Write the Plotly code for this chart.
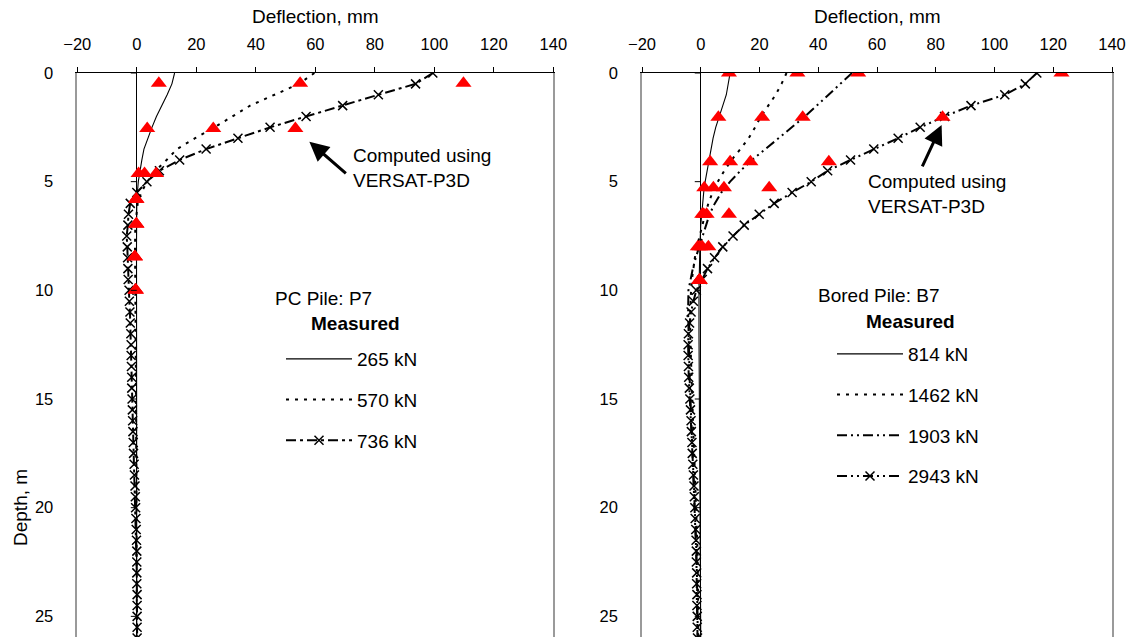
import plotly.graph_objects as go

W, H = 1132, 637
FONT = "Liberation Sans, Arial, sans-serif"

# ---------------- data ----------------
x_ticks = [-20, 0, 20, 40, 60, 80, 100, 120, 140]
y_ticks = [0, 5, 10, 15, 20, 25]

depth_half = [0, 0.5, 1, 1.5, 2, 2.5, 3, 3.5, 4, 4.5, 5, 5.5, 6, 6.5, 7, 7.5, 8, 8.5,
              9, 9.5, 10, 10.5, 11, 11.5, 12, 12.5, 13, 13.5, 14, 14.5, 15, 15.5,
              16, 16.5, 17, 17.5, 18, 18.5, 19, 19.5, 20, 20.5, 21, 21.5, 22, 22.5,
              23, 23.5, 24, 24.5, 25, 25.5, 26]

# PC Pile P7 - measured
p7_265_depth = [0, 0.5, 1, 1.5, 2, 2.5, 3, 3.5, 4, 4.5, 5, 5.5, 6, 8, 10, 12, 16, 20, 26]
p7_265_defl = [12.7, 11.8, 10.2, 8.4, 6.6, 5.1, 3.7, 2.4, 1.7, 1.0, 0.5, 0.2, 0.0, -0.1, -0.1, 0.0, 0.0, 0.0, 0.0]

p7_570_depth = [0, 0.5, 1, 1.5, 2, 2.5, 3, 3.5, 4, 4.5, 5, 5.5, 6, 7, 8, 9, 10, 12, 14, 16, 18, 20, 22, 24, 26]
p7_570_defl = [59.7, 54.5, 46.3, 38.1, 32.1, 26.1, 19.6, 13.5, 10.0, 6.3, 3.5, 1.5, 0.3, -0.5, -0.6, -0.5, -0.5, -0.4, -0.3, -0.2, -0.1, 0.0, 0.0, 0.0, 0.0]

p7_736_depth = depth_half
p7_736_defl = [99.5, 93.7, 81.2, 69.2, 56.9, 44.8, 34.0, 23.3, 14.4, 7.6, 3.4, 0.0,
               -2.2, -2.8, -3.0, -3.4, -3.2, -3.1, -3.0, -2.9, -2.6, -2.5, -2.3, -2.2,
               -2.0, -1.9, -1.9, -1.8, -1.7, -1.7, -1.6, -1.5, -1.4, -1.3, -1.2, -1.1,
               -0.9, -0.8, -0.6, -0.5, -0.4, -0.3, -0.2, -0.1, 0.0, 0.0, 0.0, 0.0,
               0.1, 0.1, 0.1, 0.1, 0.1]

# PC Pile P7 - computed (VERSAT-P3D)
p7_comp_depth = [0.47, 2.55, 4.62, 5.81, 6.95, 8.45, 9.99]
p7_comp_265 = [7.4, 3.5, 0.6, -0.2, -0.2, -0.7, -0.4]
p7_comp_570 = [54.9, 25.7, 2.6, -0.3, -0.2, -0.7, -0.4]
p7_comp_736 = [109.8, 53.3, 6.5, -0.1, -0.1, -0.6, -0.3]

# Bored Pile B7 - measured
b7_814_depth = [0, 0.5, 1, 1.5, 2, 2.5, 3, 3.5, 4, 4.5, 5, 5.5, 6, 6.5, 7, 8, 9, 10, 12, 14, 16, 18, 20, 22, 24, 26]
b7_814_defl = [10.0, 9.4, 8.7, 7.5, 6.2, 5.1, 4.2, 3.5, 2.8, 2.1, 1.5, 1.0, 0.6, 0.3, 0.0, -0.3, -0.5, -0.6, -0.6, -0.5, -0.4, -0.3, -0.2, -0.1, 0.0, 0.0]

b7_1462_depth = [0, 0.5, 1, 1.5, 2, 2.5, 3, 3.5, 4, 4.5, 5, 5.5, 6, 6.5, 7, 7.5, 8, 8.5, 9, 9.5,
                 10, 11, 12, 13, 14, 15, 16, 17, 18, 19, 20, 21, 22, 23, 24, 25, 26]
b7_1462_defl = [29.2, 27.5, 25.5, 23.0, 20.5, 18.5, 16.3, 13.5, 10.5, 8.0, 5.8, 4.0, 2.6, 1.5, 0.5, -0.4,
                -1.3, -2.0, -2.6, -3.0, -3.3, -3.6, -3.6, -3.4, -3.2, -3.0, -2.7, -2.4, -2.1, -1.8,
                -1.5, -1.3, -1.1, -1.0, -0.9, -0.8, -0.8]

b7_1903_depth = [0, 0.5, 1, 1.5, 2, 2.5, 3, 3.5, 4, 4.5, 5, 5.5, 6, 6.5, 7, 7.5, 8, 8.5, 9, 9.5,
                 10, 11, 12, 13, 14, 15, 16, 17, 18, 19, 20, 21, 22, 23, 24, 25, 26]
b7_1903_defl = [51.5, 47.5, 43.5, 39.5, 35.5, 31.0, 26.5, 22.0, 17.5, 13.5, 10.0, 7.0, 4.8, 3.0, 1.8, 0.6,
                -0.6, -1.7, -2.7, -3.5, -4.2, -4.3, -4.2, -4.0, -3.8, -3.5, -3.2, -2.9, -2.6, -2.3,
                -2.0, -1.7, -1.5, -1.3, -1.2, -1.1, -1.0]

b7_2943_depth = depth_half
b7_2943_defl = [114.4, 110.5, 103.5, 92.0, 83.0, 74.7, 67.2, 58.9, 51.0, 43.2, 37.6, 31.1,
                25.0, 19.9, 14.8, 11.0, 7.5, 4.7, 2.3, 0.5, -1.5, -2.5, -3.3, -3.8,
                -4.2, -4.3, -4.3, -4.2, -4.1, -3.9, -3.7, -3.5, -3.3, -3.2, -3.0, -2.9,
                -2.7, -2.5, -2.3, -2.2, -2.0, -1.9, -1.7, -1.6, -1.5, -1.5, -1.4, -1.4,
                -1.3, -1.3, -1.2, -1.2, -1.1]

# Bored Pile B7 - computed (VERSAT-P3D)
b7_comp_depth = [0.0, 2.04, 4.08, 5.28, 6.5, 8.0, 9.53]
b7_comp_814 = [9.6, 6.0, 3.2, 1.2, 0.5, -1.0, -0.5]
b7_comp_1462 = [32.9, 20.9, 10.0, 4.3, 1.0, -0.3, -0.5]
b7_comp_1903 = [53.6, 34.7, 16.9, 7.9, 2.0, 0.5, -0.5]
b7_comp_2943 = [122.8, 82.3, 43.6, 23.3, 9.6, 2.6, -0.3]

# ---------------- styles ----------------
SOLID = dict(color="black", width=1.1, dash="solid")
DOT = dict(color="black", width=2, dash="3px,6px")
DASHDOT = dict(color="black", width=2, dash="10px,4px,3px,4px")
DASHDOTDOT = dict(color="black", width=2, dash="10px,4px,2px,4px,2px,4px")
XMARK = dict(symbol="x-thin", size=9, line=dict(width=1.5, color="black"))
TRI = dict(symbol="triangle-up", size=14, color="#ff0000", line=dict(width=0))

fig = go.Figure()


def add_line(x, y, name, line, xa, ya, legend, markers=False):
    fig.add_trace(go.Scatter(
        x=x, y=y, name=name, mode="lines+markers" if markers else "lines",
        line=line, marker=XMARK if markers else None,
        xaxis=xa, yaxis=ya, legend=legend, legendgroup=legend + name,
        showlegend=True))


def add_comp(x, y, xa, ya):
    fig.add_trace(go.Scatter(x=x, y=y, mode="markers", marker=TRI,
                             xaxis=xa, yaxis=ya, showlegend=False))


# left panel
add_line(p7_265_defl, p7_265_depth, "265 kN", SOLID, "x", "y", "legend")
add_line(p7_570_defl, p7_570_depth, "570 kN", DOT, "x", "y", "legend")
add_line(p7_736_defl, p7_736_depth, "736 kN", DASHDOT, "x", "y", "legend", markers=True)
for vals in (p7_comp_265, p7_comp_570, p7_comp_736):
    add_comp(vals, p7_comp_depth, "x", "y")

# right panel
add_line(b7_814_defl, b7_814_depth, "814 kN", SOLID, "x2", "y2", "legend2")
add_line(b7_1462_defl, b7_1462_depth, "1462 kN", DOT, "x2", "y2", "legend2")
add_line(b7_1903_defl, b7_1903_depth, "1903 kN", DASHDOTDOT, "x2", "y2", "legend2")
add_line(b7_2943_defl, b7_2943_depth, "2943 kN", DASHDOTDOT, "x2", "y2", "legend2", markers=True)
for vals in (b7_comp_814, b7_comp_1462, b7_comp_1903, b7_comp_2943):
    add_comp(vals, b7_comp_depth, "x2", "y2")

TICKFONT = dict(family=FONT, size=16.5, color="black")


def xaxis_cfg(domain, anchor):
    return dict(domain=domain, anchor=anchor, side="top", range=[-20, 140],
                tickmode="array", tickvals=x_ticks, ticks="outside", ticklen=5,
                tickcolor="black", showline=True, linecolor="black", linewidth=1,
                zeroline=True, zerolinecolor="black", zerolinewidth=1,
                showgrid=False, tickfont=TICKFONT, ticklabelstandoff=10,
                automargin=False, fixedrange=True)


def yaxis_cfg(anchor):
    return dict(domain=[0, 1 - 73 / H], anchor=anchor, range=[25.95, 0],
                tickmode="array", tickvals=y_ticks, ticks="", showline=True,
                linecolor="#9a9a9a", linewidth=1.5, mirror=True, zeroline=False,
                showgrid=False, tickfont=TICKFONT, ticklabelstandoff=19,
                automargin=False, fixedrange=True)


LEGEND = dict(xanchor="left", yanchor="top", font=dict(family=FONT, size=19, color="black"),
              bgcolor="rgba(0,0,0,0)", borderwidth=0, itemwidth=66,
              tracegroupgap=13, traceorder="grouped")

fig.update_layout(
    width=W, height=H, margin=dict(l=0, r=0, t=0, b=0, autoexpand=False),
    paper_bgcolor="white", plot_bgcolor="white",
    font=dict(family=FONT, size=19, color="black"),
    showlegend=True,
    xaxis=xaxis_cfg([77.3 / W, 553.3 / W], "y"),
    yaxis=yaxis_cfg("x"),
    xaxis2=xaxis_cfg([642 / W, 1112 / W], "y2"),
    yaxis2=yaxis_cfg("x2"),
    legend=dict(LEGEND, x=281 / W, y=1 - 340 / H),
    legend2=dict(LEGEND, x=832 / W, y=1 - 335 / H),
)

# y-axis ticks drawn on the zero line (axis crossing at 0)
shapes = []
for xa, ya in (("x", "y"), ("x2", "y2")):
    for t in y_ticks:
        shapes.append(dict(type="line", xref=xa, yref=ya, xsizemode="pixel", xanchor=0,
                           x0=-6, x1=0, y0=t, y1=t, line=dict(color="black", width=1)))
fig.update_layout(shapes=shapes)

ann = []
TXT = dict(family=FONT, size=19, color="black")
# axis titles
for xa in ("x", "x2"):
    ann.append(dict(text="Deflection, mm", xref=xa, yref="paper", x=60, y=1 - 17 / H,
                    showarrow=False, font=TXT, xanchor="center", yanchor="middle"))
ann.append(dict(text="Depth, m", xref="paper", yref="paper", x=20 / W, y=1 - 508 / H,
                textangle=-90, showarrow=False, font=TXT, xanchor="center", yanchor="middle"))
# panel labels
ann.append(dict(text="PC Pile: P7", xref="paper", yref="paper", x=273 / W, y=1 - 298 / H,
                showarrow=False, font=TXT, xanchor="left", yanchor="middle"))
ann.append(dict(text="<b>Measured</b>", xref="paper", yref="paper", x=355 / W, y=1 - 323 / H,
                showarrow=False, font=TXT, xanchor="center", yanchor="middle"))
ann.append(dict(text="Bored Pile: B7", xref="paper", yref="paper", x=816 / W, y=1 - 295 / H,
                showarrow=False, font=TXT, xanchor="left", yanchor="middle"))
ann.append(dict(text="<b>Measured</b>", xref="paper", yref="paper", x=911 / W, y=1 - 321 / H,
                showarrow=False, font=TXT, xanchor="center", yanchor="middle"))
# computed-by notes
ann.append(dict(text="Computed using<br>VERSAT-P3D", xref="x", yref="y", x=72.0, y=4.35,
                showarrow=False, font=TXT, xanchor="left", yanchor="middle", align="left"))
ann.append(dict(text="Computed using<br>VERSAT-P3D", xref="x2", yref="y2", x=56.2, y=5.59,
                showarrow=False, font=TXT, xanchor="left", yanchor="middle", align="left"))
# arrows
ann.append(dict(text="", xref="x", yref="y", x=58.0, y=3.16, ax=38, ay=33, showarrow=True,
                arrowhead=2, arrowsize=1.3, arrowwidth=3, arrowcolor="black", standoff=0))
ann.append(dict(text="", xref="x2", yref="y2", x=82.0, y=2.39, ax=-20, ay=43, showarrow=True,
                arrowhead=2, arrowsize=1.3, arrowwidth=3, arrowcolor="black", standoff=0))
fig.update_layout(annotations=ann)

fig.write_html("out.html")
